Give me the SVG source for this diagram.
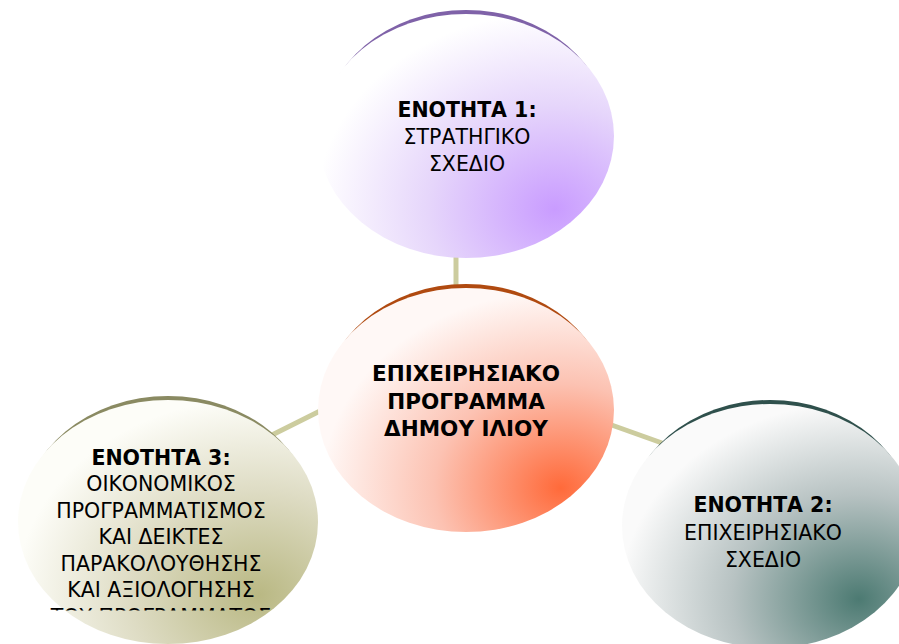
<svg xmlns="http://www.w3.org/2000/svg" width="899" height="644" viewBox="0 0 899 644">
<style>
.t{font-family:"DejaVu Sans","Liberation Sans",sans-serif;font-size:20.5px;fill:#000;text-anchor:middle}
.b{font-weight:bold}
.c{font-size:21.5px}
.conn{stroke:#cccc9e;stroke-width:5;fill:none}
</style>
<defs>
<radialGradient id="gP" cx="0.8" cy="0.8" r="0.95">
<stop offset="0" stop-color="#c99cff"/><stop offset="0.45" stop-color="#e6d6fb"/><stop offset="0.85" stop-color="#ffffff"/>
</radialGradient>
<radialGradient id="gO" cx="0.82" cy="0.82" r="0.95">
<stop offset="0" stop-color="#ff6a3a"/><stop offset="0.45" stop-color="#fcc2b2"/><stop offset="0.85" stop-color="#fff8f6"/>
</radialGradient>
<radialGradient id="gL" cx="0.8" cy="0.8" r="0.95">
<stop offset="0" stop-color="#b9b883"/><stop offset="0.45" stop-color="#dedcc4"/><stop offset="0.85" stop-color="#fdfdf8"/>
</radialGradient>
<radialGradient id="gT" cx="0.8" cy="0.8" r="0.95">
<stop offset="0" stop-color="#4c7a72"/><stop offset="0.45" stop-color="#b7c2c2"/><stop offset="0.85" stop-color="#fafafa"/>
</radialGradient>
<clipPath id="c3"><rect x="0" y="0" width="899" height="610.5"/></clipPath>
</defs>
<rect width="899" height="644" fill="#fff"/>
<g id="connectors">
<line class="conn" x1="456" y1="250" x2="456" y2="292"/>
<line class="conn" x1="262" y1="440" x2="326" y2="408"/>
<line class="conn" x1="606" y1="423" x2="662" y2="443"/>
</g>
<g id="node1">
<ellipse cx="466" cy="131" rx="143" ry="121" fill="#7f62a8"/>
<ellipse cx="466" cy="136" rx="148" ry="122" fill="url(#gP)"/>
<text class="t b" x="467" y="117">ΕΝΟΤΗΤΑ 1:</text>
<text class="t" x="467" y="144">ΣΤΡΑΤΗΓΙΚΟ</text>
<text class="t" x="467" y="171">ΣΧΕΔΙΟ</text>
</g>
<g id="node0">
<ellipse cx="466" cy="405" rx="143" ry="121" fill="#b04a10"/>
<ellipse cx="466" cy="410" rx="148" ry="122" fill="url(#gO)"/>
<text class="t b c" x="466" y="381">ΕΠΙΧΕΙΡΗΣΙΑΚΟ</text>
<text class="t b c" x="466" y="409">ΠΡΟΓΡΑΜΜΑ</text>
<text class="t b c" x="466" y="436">ΔΗΜΟΥ ΙΛΙΟΥ</text>
</g>
<g id="node3">
<ellipse cx="168" cy="517" rx="145" ry="121" fill="#8a8a62"/>
<ellipse cx="168" cy="522" rx="150" ry="122" fill="url(#gL)"/>
<g clip-path="url(#c3)">
<text class="t b" x="161" y="465">ΕΝΟΤΗΤΑ 3:</text>
<text class="t" x="161" y="491">ΟΙΚΟΝΟΜΙΚΟΣ</text>
<text class="t" x="161" y="518">ΠΡΟΓΡΑΜΜΑΤΙΣΜΟΣ</text>
<text class="t" x="161" y="544">ΚΑΙ ΔΕΙΚΤΕΣ</text>
<text class="t" x="161" y="571">ΠΑΡΑΚΟΛΟΥΘΗΣΗΣ</text>
<text class="t" x="161" y="597">ΚΑΙ ΑΞΙΟΛΟΓΗΣΗΣ</text>
<text class="t" x="161" y="624">ΤΟΥ ΠΡΟΓΡΑΜΜΑΤΟΣ</text>
</g>
</g>
<g id="node2">
<ellipse cx="770" cy="521" rx="143" ry="121" fill="#2f504c"/>
<ellipse cx="770" cy="526" rx="148" ry="122" fill="url(#gT)"/>
<text class="t b" x="763" y="512">ΕΝΟΤΗΤΑ 2:</text>
<text class="t" x="763" y="540">ΕΠΙΧΕΙΡΗΣΙΑΚΟ</text>
<text class="t" x="763" y="567">ΣΧΕΔΙΟ</text>
</g>
</svg>
